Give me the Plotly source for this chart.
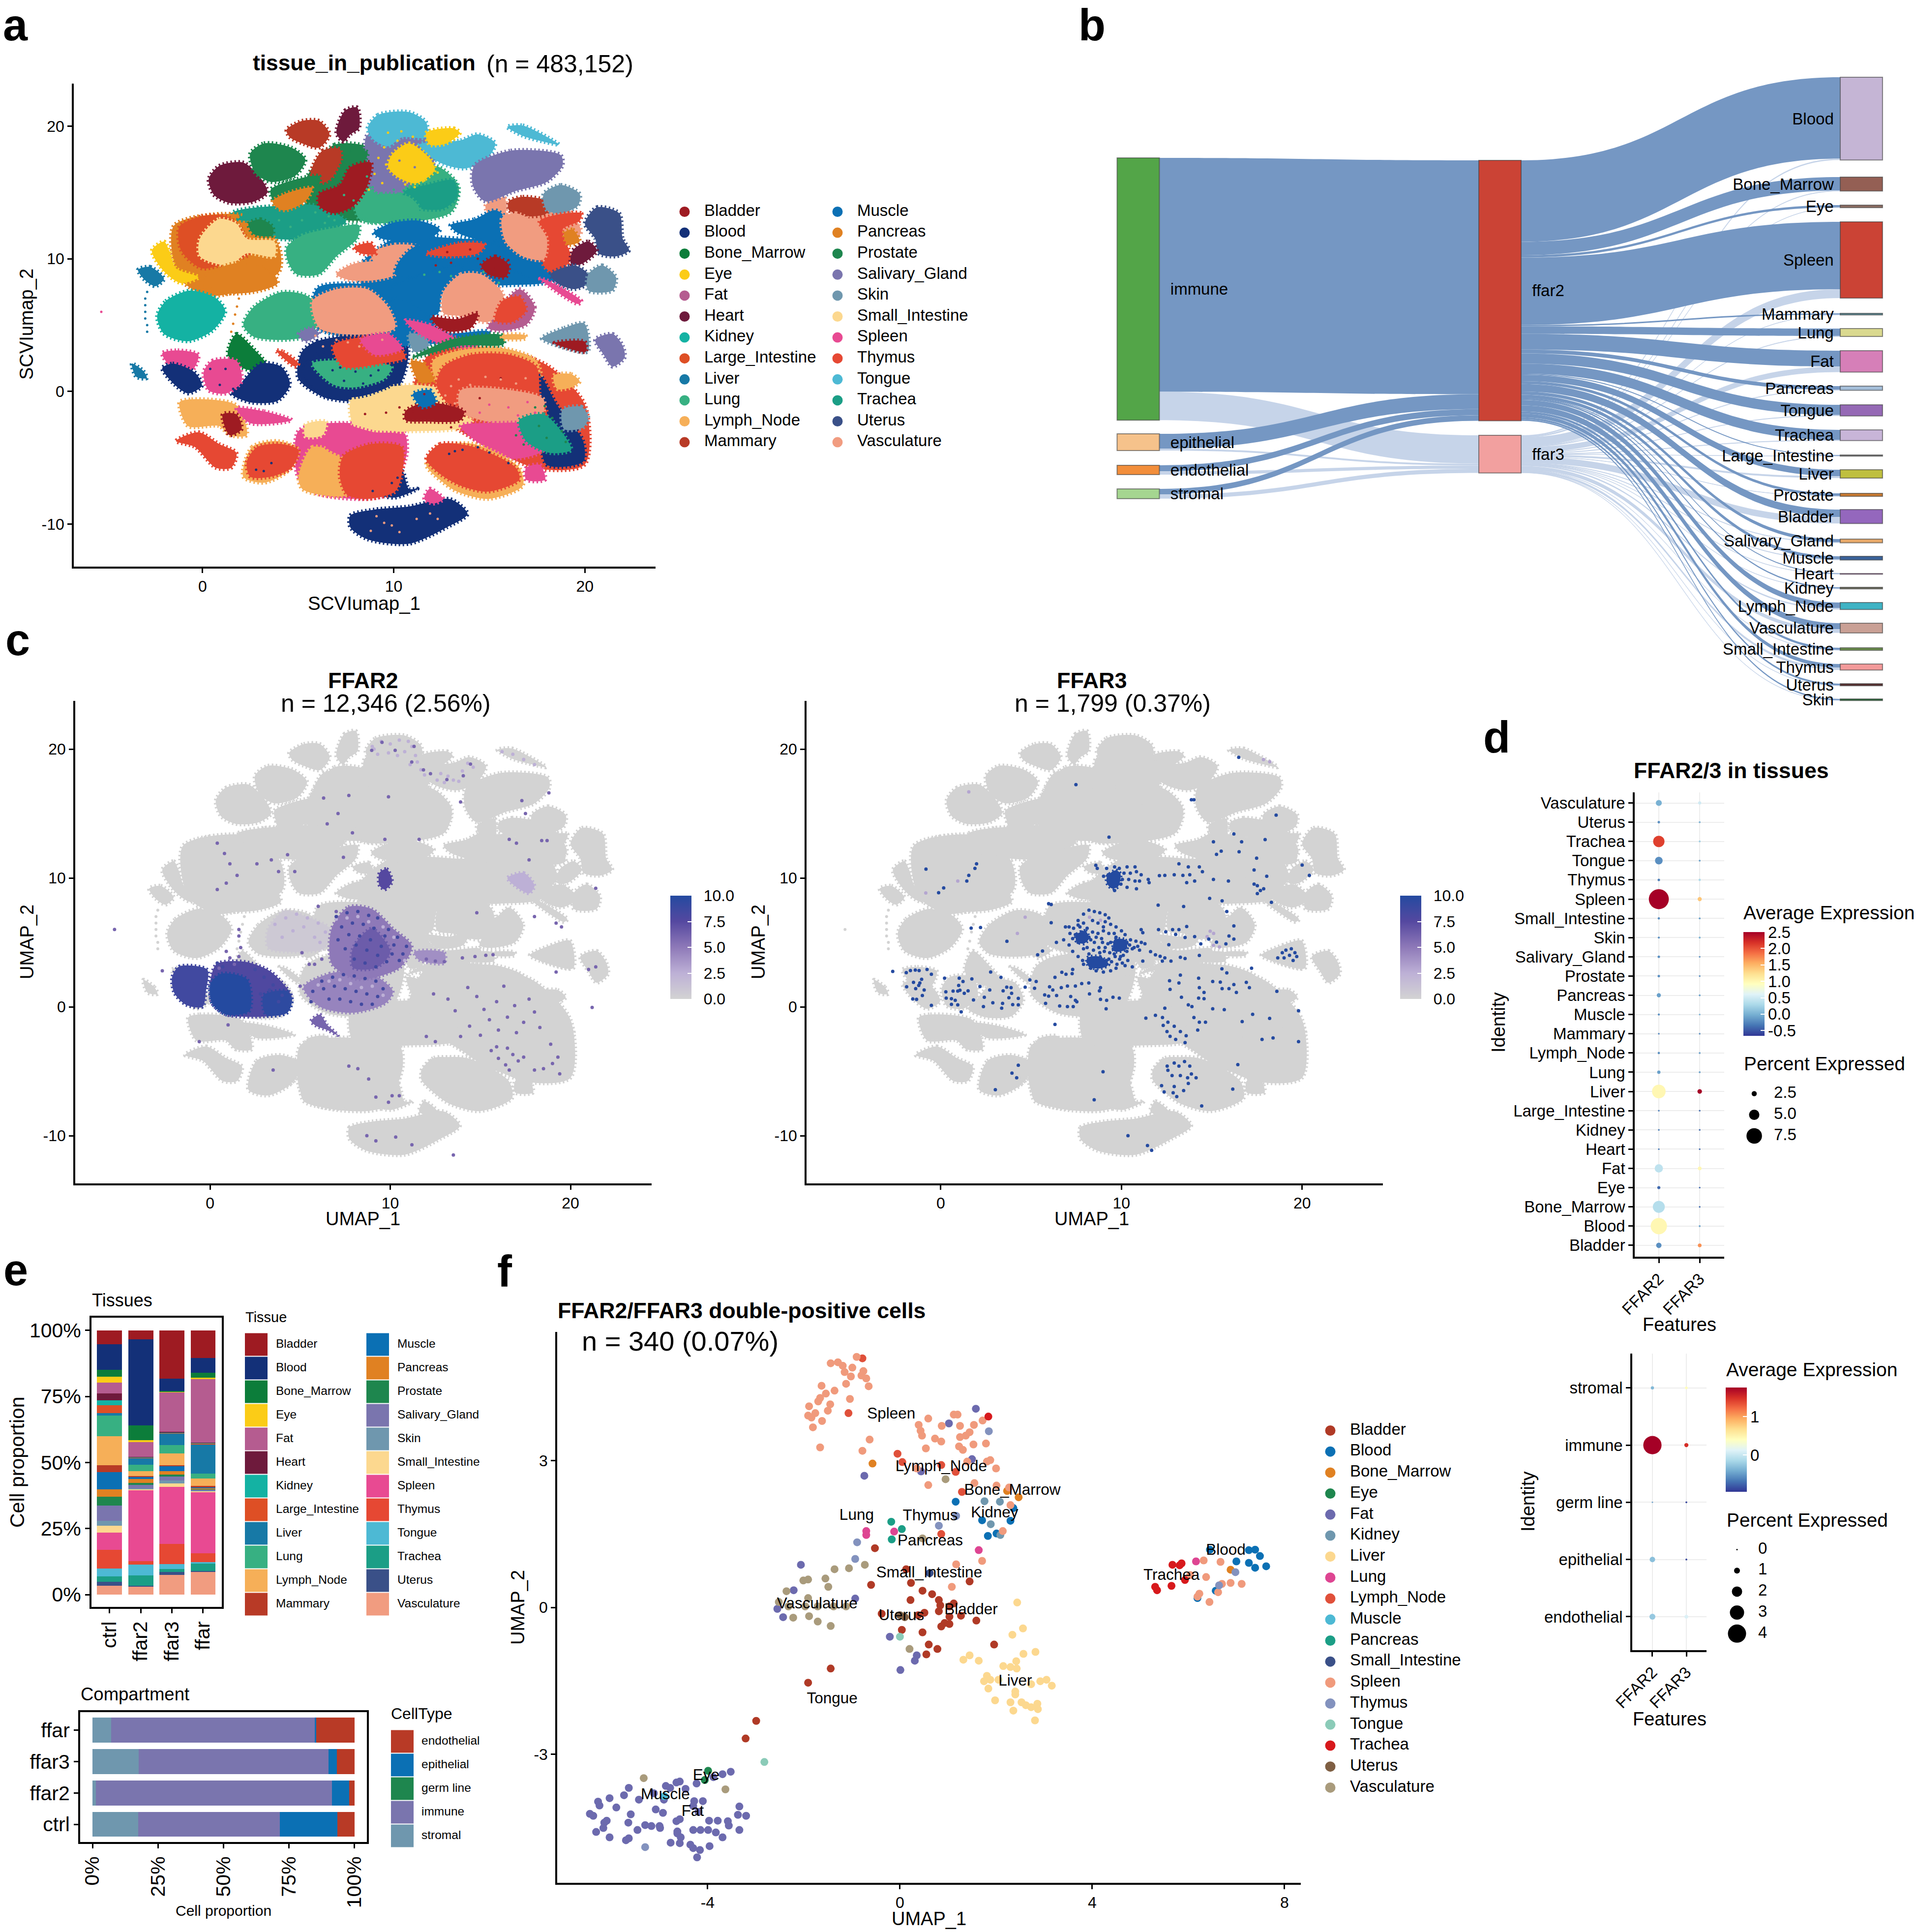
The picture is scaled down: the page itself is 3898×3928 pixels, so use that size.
import plotly.graph_objects as go
from plotly.colors import sample_colorscale

W, H = 3898, 3928
FONT = "Liberation Sans"

TISSUES = ["Bladder","Blood","Bone_Marrow","Eye","Fat","Heart","Kidney","Large_Intestine","Liver","Lung","Lymph_Node","Mammary",
           "Muscle","Pancreas","Prostate","Salivary_Gland","Skin","Small_Intestine","Spleen","Thymus","Tongue","Trachea","Uterus","Vasculature"]
TISSUE_COLORS = ["#9E1B22","#133078","#0C7D3A","#FBCC17","#B55C90","#6E1A3C","#14B2A3","#DE4F25","#1779A6","#37B082","#F6AF58","#B83A26",
                 "#0B70B4","#E08122","#1E864E","#7A75AE","#6F97AE","#FCD88F","#E84A92","#E64833","#4DB9D4","#1B9E86","#3A5088","#F19C80"]
PAL = dict(zip(TISSUES, TISSUE_COLORS))

# Cluster outlines of the embedding, in SCVIumap units, back to front
FILLERS = [
 ("Prostate",[5.4,6.9,8.9,9.6,9.2,7,5.3],[16,18.6,18.3,16.5,13.2,13,14.3]),
 ("Lung",[8,9.8,12.4,13.4,13,10,8.2],[16.5,17.2,16.9,15.4,13.5,12.7,13]),
 ("Salivary_Gland",[8.6,11,12,12,9.5,8.7],[19.3,19.4,18.9,16.8,15,16.8]),
 ("Trachea",[1.5,3.9,6,7.5,5.4,3.9,2],[13.4,14,14,12.8,11.5,11.5,12]),
 ("Vasculature",[14.8,15.8,16,19,19.8,19,17],[14,14.6,13,13.8,12,11,9.8]),
 ("Muscle",[8,10,14,17.5,18.5,16,12,8.5],[9,11.5,11.5,11.5,8.5,8,8.2,8]),
 ("Muscle",[6,9,11,11.5,12.5,15,15,11,8,5.8],[7.8,8.1,8,7,4.5,4.5,3.9,3.6,3.9,5]),
 ("Blood",[5.2,6,9,10.7,10.6,9.8,6.5,5],[3,3.8,4.3,3.5,1.5,-.5,-.5,1]),
 ("Thymus",[12,15,18,20,20,17.5,13.5,11],[3,3.3,2,-1,-5.5,-5.8,-3,-.5]),
 ("Spleen",[5,6.5,10.5,10.7,10.3,10,8.6,6,5],[-3,-2.4,-3,-4.5,-6.5,-7.6,-8.1,-7.7,-6.5]),
 ("Small_Intestine",[7.8,11,14,14,11,8],[-.5,.5,-.5,-2.5,-3,-2.8]),
 ("Pancreas",[-1.5,2,3.9,4,.5,-1.2],[12.5,13.3,11.3,9,7.2,8.5]),
]
BLOBS = FILLERS + [
 ("Heart",[.32,.87,2.13,3.03,3.39,2.67,1.41,.6],[16,17,17.25,16.1,15,14.3,14.2,14.8]),
 ("Prostate",[2.49,3.21,4.66,5.38,4.84,3.57,2.76],[17.92,18.7,18.37,17.47,16.24,15.79,16.46]),
 ("Mammary",[4.39,5.2,6.1,6.64,6.1,5.2,4.57],[19.71,20.39,20.39,19.38,18.37,18.7,19.15]),
 ("Heart",[7,7.45,8.09,8.18,7.73,7.37],[19.49,21.17,21.4,19.83,19.38,18.82]),
 ("Tongue",[8.63,9.17,10.79,11.7,11.7,10.43,9.71,8.99],[19.83,20.84,21.06,20.28,19.15,19.15,18.48,18.93]),
 ("Tongue",[11.34,13.5,14.4,15.31,14.77,13.69,12.6,11.7],[18.6,18.93,19.38,18.7,17.36,16.8,17.13,17.92]),
 ("Eye",[11.7,13.14,13.46,12.78,11.88],[19.49,19.83,19.49,18.7,18.6]),
 ("Tongue",[15.94,16.75,18.65,17.84,16.75],[19.94,20.05,18.6,18.82,19.26]),
 ("Salivary_Gland",[14.22,16.12,18.74,18.83,18.01,16.39,14.77,14.13],[17.02,18.15,17.81,17.02,15.79,15.11,14.33,15.56]),
 ("Salivary_Gland",[8.63,8.99,10.25,10.43,9.35],[15.79,17.13,16.68,15.11,14.89]),
 ("Eye",[9.89,10.79,11.88,12.15,11.16,10.25,9.71],[17.81,18.7,17.58,16.68,15.68,16.12,16.9]),
 ("Trachea",[10.61,11.7,13.14,13.32,12.6,11.34,10.43],[15.11,15.56,15.9,14.67,13.77,13.77,14.22]),
 ("Lung",[8.27,9.35,10.79,11.34,10.43,8.81,8.09],[14.44,14.89,14.67,13.77,13.2,12.76,13.54]),
 ("Mammary",[5.74,6.28,7.18,7.18,6.46,5.65],[16.9,18.15,18.26,16.9,15.79,15.79]),
 ("Prostate",[7.18,7.73,8.63,8.45,7.55,6.82],[16.9,18.15,18.03,17.25,15.79,15.56]),
 ("Bladder",[6.1,7.18,7.73,8.81,8.63,7.91,6.82,6.1],[14.89,15.56,16.9,17.25,15.56,14,13.43,14]),
 ("Prostate",[3.57,6.1,6.1,3.75],[15.23,16.24,15.68,14.33]),
 ("Pancreas",[3.66,4.3,5.74,5.38,4.39,3.93],[14.33,14.89,15.34,14.33,13.66,13.77]),
 ("Trachea",[1.86,3.03,3.93,2.67],[12.98,13.88,13.66,12.87]),
 ("Prostate",[2.4,3.03,3.66,3.66,2.67],[12.65,12.98,12.42,11.75,11.86]),
 ("Lung",[4.39,5.2,6.82,8.18,8.09,7,6.1,4.93,4.48],[10.85,11.75,12.31,12.53,11.52,10.18,8.83,8.83,9.73]),
 ("Muscle",[8.94,9.89,11.34,12.42,11.88,10.43,9.35],[11.97,12.69,12.87,12.2,11.52,11.34,11.52]),
 ("Muscle",[12.96,14.22,15.31,15.85,15.67,14.95,13.32],[12.53,12.98,13.66,13.09,11.52,11.3,11.97]),
 ("Mammary",[16.03,16.75,18.01,18.01,16.93,16.03],[14.33,14.67,14.33,13.43,13.2,13.66]),
 ("Skin",[17.84,18.74,19.73,19.64,18.74,18.01],[14.89,15.56,14.89,14,13.43,13.66]),
 ("Uterus",[20,20.63,21.8,21.98,22.31,21.63,20.72,20.54],[12.65,13.88,13.43,11.52,10.63,10.18,10.4,11.52]),
 ("Thymus",[17.65,19.82,19.73,18.83,19.28,18.37,17.84,17.84],[12.87,13.43,12.87,12.2,9.95,8.94,9.5,11.52]),
 ("Muscle",[15.31,16.21,17.84,17.47,16.03,15.31],[11.3,10.63,8.83,8.49,9.28,10.4]),
 ("Vasculature",[15.67,16.39,17.47,18.01,17.84,16.75,15.85],[13.09,13.43,12.65,11.52,9.95,10.18,11.3]),
 ("Pancreas",[18.92,19.37,19.73,19.1],[11.97,12.2,11.3,11.07]),
 ("Heart",[19.37,20.18,20.63,19.82,19.28],[10.63,11.3,10.63,9.6,9.6]),
 ("Uterus",[18.2,19.46,20.18,20.18,19.46,18.55],[8.83,9.5,8.83,8.16,7.71,8.16]),
 ("Skin",[20.18,20.9,21.63,21.45,20.18],[8.83,9.5,8.61,7.6,7.6]),
 ("Spleen",[17.65,18.01,19.82,19.64],[8.49,8.38,6.81,6.59]),
 ("Vasculature",[7,7.91,9.53,10.07,8.99,7.73],[8.83,9.62,9.73,8.83,8.38,8.38]),
 ("Vasculature",[8.81,10.07,11.34,10.61,9.35],[10.4,11.07,10.85,9.28,9.05]),
 ("Thymus",[7.91,8.81,9.08,8.27],[10.85,11.19,10.4,10.4]),
 ("Muscle",[10.25,11.16,13.5,15.31,15.85,14.04,12.6,10.79,10.07],[9.73,10.96,10.85,11.07,10.4,9.84,9.28,8.61,8.83]),
 ("Thymus",[11.7,13.5,14.77,14.4,12.6],[10.4,11.19,11.07,10.4,10.18]),
 ("Bladder",[14.58,15.31,16.03,15.85,14.95],[9.5,10.18,9.5,8.61,8.83]),
 ("Muscle",[9.8,11.16,12.6,13.68,13.5,12.6,12.33,11.88,10.79,10.07],[7.71,8.61,9.28,9.39,8.61,7.49,5.9,5.68,6.81,7.04]),
 ("Fat",[16.57,17.38,16.93,15.49,14.95],[7.71,6.36,5.02,4.57,4.8]),
 ("Vasculature",[12.6,13.5,14.58,15.67,15.76,14.95,13.5,12.6],[7.49,8.83,8.83,7.49,6.36,5.24,5.68,5.9]),
 ("Thymus",[15.67,16.57,16.93,16.21,15.31],[6.81,7.15,6.14,5.24,5.35]),
 ("Bladder",[11.97,13.32,14.4,14.04,12.6],[5.58,5.46,5.9,4.79,4.57]),
 ("Skin",[17.74,18.92,19.97,20.15,18.55],[4,4.79,5.13,3,3.45]),
 ("Bladder",[18.4,20,20.05,19],[3.65,3.75,3,3.3]),
 ("Salivary_Gland",[20.54,21.45,21.98,22.08,21.45,20.99],[3.9,4.34,3.45,2.55,1.87,2.77]),
 ("Kidney",[-2.38,-1.93,-.67,.69,1.19,.51,-.76,-2.02],[5.69,6.81,7.6,7.04,6.03,4.57,3.78,4.34]),
 ("Liver",[-3.38,-2.74,-2.02,-2.47,-3.01],[9.17,9.39,8.49,7.93,8.38]),
 ("Liver",[-3.7,-3.1,-2.92,-3.47],[2.1,1.54,1,1.1]),
 ("Large_Intestine",[-1.21,-.04,1.23,1.95,2.49,1.77,-.04,-1.12],[12.42,13.2,13.2,12.42,10.4,9.95,9.28,10.63]),
 ("Small_Intestine",[-.14,.87,1.77,2.31,3.75,3.75,2.31,1.41,-.14],[11.52,13,12.65,11.52,11.3,10.18,10.4,9.5,10.18]),
 ("Eye",[-2.65,-2.02,-1.75,-1.39,-.22,-1.12,-2.02],[10.63,11.3,10.63,9.28,8.61,8.16,9.05]),
 ("Pancreas",[-.05,1.23,2.31,3.57,3.93,2.67,.69],[8.38,9.5,9.73,9.05,8.16,7.49,7.49]),
 ("Lung",[2.13,2.67,4.12,5.38,6.1,5.74,4.48,2.67],[5.02,6.36,7.49,7.26,6.36,4.34,3.9,4.12]),
 ("Muscle",[8.63,9.89,10.43,11.16,10.25,8.99],[7.71,6.81,5.24,3.67,3.45,5.02]),
 ("Vasculature",[5.74,7,8.63,9.71,10.07,8.99,7.18,6.1],[6.81,7.71,7.71,6.36,4.79,4.34,4.34,4.79]),
 ("Skin",[10.79,11.7,11.79,11.06],[4.34,4.12,3.22,3]),
 ("Spleen",[10.61,11.88,13.14,14.4,12.96,11.34],[5.35,5.02,4.12,3.45,3.34,4.34]),
 ("Prostate",[10.97,12.96,15.67,15.76,13.5,11.7],[2.55,3.9,4.23,3.56,3.45,2.77]),
 ("Lymph_Node",[15.67,16.9,16.9,15.67],[4.23,4.23,4,4]),
 ("Salivary_Gland",[5.02,5.74,6.1,5.38],[4.34,4.79,4.34,3.78]),
 ("Blood",[5.2,6.28,8.99,10.25,9.89,8.27,6.46,5.56],[1.87,2.99,2.77,1.87,.53,-.37,-.37,.53]),
 ("Lung",[5.74,8.09,9.89,9.53,7.91,6.82],[2.1,2.32,1.87,.98,.3,.53]),
 ("Thymus",[6.82,8.63,10.07,10.61,9.35,7.36],[3.45,4.12,3.67,2.55,2.1,1.87]),
 ("Spleen",[8.27,9.71,10.43,8.99],[3.9,4.34,3.22,2.77]),
 ("Spleen",[-2.11,-1.3,-.22,-.58,-1.66],[2.88,3.1,2.77,1.54,1.87]),
 ("Blood",[-2.11,-1.57,-.4,-.04,-.76,-1.48],[1.76,2.1,1.43,.42,-.15,.53]),
 ("Bone_Marrow",[1.32,1.77,2.67,3.39,2.31],[2.77,4.34,3.22,1.87,1.65]),
 ("Blood",[1.95,3.03,4.12,4.57,3.93,2.49,1.5],[.53,2.1,1.87,.53,-.71,-.82,-.15]),
 ("Spleen",[.05,.51,1.77,2.04,1.23,.32],[1.43,2.32,2.32,.75,-.15,.08]),
 ("Thymus",[3.84,4.21,5.02,4.84],[3.1,3,2.1,1.87]),
 ("Lymph_Node",[12.06,13.5,15.85,17.47,17.65,15.85,12.96,12.15],[2.32,3.11,3.22,2.32,.53,-.37,-.15,.98]),
 ("Pancreas",[10.9,11.6,12.1,11.35],[2.3,2.1,.8,.7]),
 ("Blood",[17.65,18.55,19.91,19.91,18.01,17.65],[1.2,-1.04,-3.74,-5.3,-5.53,-2.61]),
 ("Thymus",[12.6,14.04,16.03,17.47,17.65,18.01,17.11,14.4,12.78,12.24],[1.87,2.77,2.77,1.87,-.37,-1.72,-2.61,-2.16,-.82,.53]),
 ("Vasculature",[13.5,16.21,17.84,17.65,15.31,13.5],[.08,.08,-.59,-2.16,-2.38,-1.49]),
 ("Spleen",[13.5,15.31,17.65,17.84,16.21,14.77],[-2.61,-2.38,-2.61,-4.41,-5.08,-4.19]),
 ("Trachea",[16.57,17.84,18.92,19.28,18.2,16.93],[-2.16,-1.72,-3.29,-4.41,-4.64,-3.74]),
 ("Skin",[18.83,19.82,20.18,19.91,18.92],[-1.38,-1.15,-1.94,-2.72,-2.84]),
 ("Lymph_Node",[18.37,19.28,19.73,19.28,18.55],[1.2,1.31,.75,.3,.19]),
 ("Small_Intestine",[7.9,8.99,10.61,10.97,11.16,9.71,8.45],[-1.27,-.37,.19,-1.27,-2.61,-2.84,-2.39]),
 ("Bladder",[10.61,11.7,13.68,13.5,11.7,10.61],[-1.49,-.82,-1.49,-2.16,-2.27,-2.16]),
 ("Muscle",[11,11.9,12.2,11.5],[-.2,.1,-.8,-1.2]),
 ("Lymph_Node",[-1.21,-.58,1.77,2.31,1.41,.87,-.76],[-.82,-.59,-1.04,-3.29,-3.29,-2.61,-2.61]),
 ("Spleen",[1.77,3.21,4.66,2.49],[-1.27,-1.49,-2.16,-2.39]),
 ("Bladder",[1.05,1.77,2.04,1.41],[-1.72,-1.72,-2.84,-3.29]),
 ("Thymus",[-1.39,-.22,.87,1.77,1.5,.69,-.4],[-3.74,-3.07,-3.96,-4.63,-5.75,-5.75,-4.19]),
 ("Lymph_Node",[2.13,2.58,3.93,5.02,4.48,3.21],[-6.43,-4.19,-3.74,-4.41,-5.98,-6.88]),
 ("Thymus",[2.31,2.85,4.12,5.02,4.66,3.57,2.49],[-5.3,-4.19,-3.96,-4.41,-5.75,-6.43,-6.43]),
 ("Small_Intestine",[5.38,6.46,6.28,5.38],[-2.5,-2.28,-3.29,-3.4]),
 ("Lymph_Node",[5.02,5.74,7.18,7.55,6.1,5.2],[-6.43,-4.19,-4.86,-7.77,-7.77,-7.33]),
 ("Spleen",[6.46,7.18,8.99,10.43,10.43,8.99,7.36,6.46],[-3.29,-2.5,-3.07,-3.29,-4.41,-5.08,-4.86,-4.19]),
 ("Blood",[9.35,10.43,10.79,11.25,10.07],[-7.77,-5.98,-7.33,-7.33,-8]),
 ("Thymus",[7.36,8.81,10.43,10.43,10.07,8.63,7.55,7.18],[-4.86,-3.96,-4.19,-6.21,-7.55,-8.1,-7.77,-6.43]),
 ("Lymph_Node",[11.7,12.24,14.22,16.57,16.75,14.95,13.32,12.6],[-5.53,-4.19,-3.96,-5.75,-7.1,-8.1,-7.55,-6.88]),
 ("Thymus",[11.7,12.42,14.22,16.39,16.57,14.95,13.5,12.42],[-5.08,-3.96,-4.19,-5.75,-6.65,-7.55,-7.1,-6.21]),
 ("Spleen",[16.93,17.65,17.92,16.93],[-5.75,-5.53,-6.65,-6.65]),
 ("Blood",[7.73,7.73,8.99,10.79,12.96,13.86,12.78,10.79,8.63],[-10.24,-9.35,-8.9,-8.67,-8.11,-9.23,-10.24,-11.48,-11.14]),
 ("Spleen",[11.6,11.88,12.6,12.06],[-8.11,-7.33,-8.11,-8.45]),
]
SPECKLE_A = {
 "Eye":[(9.7,19.5),(10.4,19.6),(11,19.2),(10.2,18.9),(9.5,18.4),(10.8,18.3),(9.2,17.6),(9.6,17.1),(10,16.6),(9,16.4),(9.4,15.7),(8.7,15.2),(12.3,16.5),(11.6,15.9),(11.1,15.4),(10.6,15.6)],
 "Lung":[(7.4,14.8),(7.9,14.4),(8.6,16.2),(8.9,15.4),(10,15.2),(6.6,13.2),(6.9,12.9),(5.9,13.5),(5.2,12.9),(4.6,12.4),(4,12.9),(6.4,12.7),(6.1,1.5),(6.8,1),(11.6,8.8),(13,8.7),(12.4,9),(14.7,9),(15.5,8.2)],
 "Salivary_Gland":[(9.1,17.4),(9.8,15.6),(11.1,16.9),(10.3,17.4)],
 "Bladder":[(15.6,1),(14.5,-.5),(12.6,-1),(11.6,-.2),(9.6,-1.6),(10.3,-1.2),(8.5,-1.7),(11,-1.5),(13,-2.7),(14.4,10),(15.2,9.3),(15.8,8.7),(16,9.9),(13,9.7),(12.2,9.5),(12.8,10.5),(14,10.7)],
 "Blood":[(.4,1.7),(.9,.5),(1.6,.2),(1.2,1.7),(-1,1.2),(-1.2,.6),(-.8,.4),(3.2,-6),(3.6,-5.4),(2.8,-5.9),(13.6,-4.4),(14.4,-4.2),(13.2,-4.5),(12.9,-4.7),(15,-4.6),(16,-5.4),(8.9,-7.5),(9.9,-6.9),(10.2,-6.5),(6.8,1.6),(7.4,.8),(8,1.5),(8.8,1.2),(9.2,1.6),(7.2,1.8),(8.4,.6)],
 "Vasculature":[(8.8,-10.5),(9.5,-9.9),(10.3,-10.6),(11.2,-9.6),(11.9,-9.2),(9.1,-9.4),(9.9,-10.1),(12.3,-9.6),(6.5,4.9),(7,3.9),(7.6,3.7),(8.2,3.4),(9.4,3.9),(5.9,4.2),(6.3,3.4),(14,.5),(14.8,1.1),(15.6,.9),(16.4,.6),(16.9,1),(13.4,.9),(13,.4),(13.2,-.9),(12.7,-.3)],
 "Spleen":[(15,-1),(16,-1.2),(16.5,-1.8),(14.5,-1.6),(17,-.8),(17.4,-1.6),(-5.3,6)],
 "Prostate":[(17.4,-1.2),(17.9,-1.1),(18.3,-2),(18.8,-3),(19,-3.8),(17.6,-2.6),(18,-3.5),(16.8,-4),(16.4,-3.3)],
 "Pancreas":[(2,7.5),(1.9,7),(1.8,6.4),(1.7,5.8),(1.6,5.1),(1.5,4.5)],
 "Liver":[(-2.9,7.5),(-3,7),(-3,6.5),(-3,6),(-3,5.5),(-2.9,5),(-2.9,4.5)],
}

# Expression patches and dots (UMAP units)
FFAR2_PATCHES = [
 (.7,[3.23,4.15,5.32,6.62,6.36,4.54,3.23],[6.08,7.45,7,6.08,4.56,4.26,4.56]),
 (4.5,[5.19,6.62,8.71,10.14,9.75,7.93,6.1],[1.52,2.58,2.74,1.22,.3,-.46,0]),
 (5.0,[6.75,7.67,8.97,10.14,11.19,10.53,8.19,6.75],[6.08,7.75,7.6,6.08,4.71,3.04,2.13,3.34]),
 (6.5,[7.93,8.97,10,9.23,7.93],[4.56,6.08,4.26,3.04,3.04]),
 (4.0,[11.32,13,13,11.58],[4.26,4.2,3.4,3.65]),
 (7.5,[9.4,9.8,10.1,9.7,9.4],[10.4,10.7,9.73,9.1,9.42]),
 (2.5,[16.5,17.4,18,17.7,16.9],[10,10.4,9.4,8.8,9.4]),
 (6.0,[5.6,6.1,6.5,7.1,6.5,5.9],[-1.1,-.6,-1.4,-2.2,-1.8,-1.5]),
 (8.5,[-2.11,-1.72,-.16,-.23,-.42,-1.33,-1.98],[2.28,3.13,2.89,1.22,0,.15,1.06]),
 (7.8,[.03,.37,1.93,3.36,4.54,4.28,2.97,.89,.1],[2.13,3.34,3.5,2.74,.76,-.46,-.76,-.6,.3]),
 (10.0,[.03,.63,2.06,2.19,.89,.1],[1.82,2.58,2.13,-.3,-.6,.3]),
 (9.5,[2.97,4.28,4.54,4.28,3.1],[.91,1.22,.46,-.46,-.6]),
]
FFAR2_X = [8.97,9.54,10.27,11.32,11.19,11.84,12.23,14.05,14.45,13.14,12.4,13.2,13.6,14.3,14.8,15.2,15.5,15.9,16.3,16.5,16.9,17.4,17.7,18,16,15,14.4,13.9,17,18.3,
 15.6,16,16.5,16.8,17.1,16.4,15.9,16.6,17.4,18,18.5,19,19.3,19.4,3.5,1,-.6,8.8,9.2,10.1,10.5,9.9,8.2,7.7,12,12.5,8.7,9.2,10.3,11.2,13.5,
 4.3,3.8,.4,.8,1.1,1.5,.9,.4,2.6,3.4,4.7,9.7,11.6,7.4,7.1,6.5,6.3,7.7,9.9,7.9,18.4,18.7,17.7,17,16.6,17.5,17.3,18.8,13.9,21.4,19.2,19.5,18,14.8,21.4,21,19.2,18.9,21.2,
 1.6,1.6,1.7,1.6,.9,1.1,.5,-2.65,-5.3,1.35,12,12.5,13,14,14.7,15.3,15.7,5,5.8,5.5,5.1,6.2,7,6]
FFAR2_Y = [19.9,20.52,19.9,20.21,19,18.39,18.09,17.93,18.84,17.63,1,.6,-.3,1.5,.8,-.2,-1,.4,1.6,-.8,.1,-1.2,.6,-.4,-1.8,-2.2,-1.5,-2.3,-2,-1.6,
 -3.4,-4,-3.2,-3.7,-4.2,-4.5,-3.1,-4.9,-3.9,-4.9,-4.8,-4.4,-3.9,-5.2,-4.9,-1.4,-2.7,-5.6,-7,-6.9,-6.9,-7.4,-4.8,-4.6,-2.3,-2.7,-10,-10.4,-10.1,-10.7,-11.5,
 11.8,10.5,12.7,11.9,11.1,10.2,9.6,9.1,11.1,11.4,10.5,13,13,11.6,15,14.2,16.2,16.4,16.3,13.5,12.9,12.9,11.4,12.7,13,15,16,16.6,15.9,9.2,6.5,6.2,7,7.3,3.1,2.9,2.7,-2.9,-.05,
 6,5.5,4.6,3.9,4.3,3.8,3,2.8,6,3.3,3.7,3.55,3.5,3.8,3.9,4,4.05,1.6,3.3,3.3,4.2,3.7,7.4,7.8]
FFAR2_DARK_X = [7,7.6,8.2,8.8,9.3,9.9,10.4,10.9,7.3,7.9,8.5,9.1,9.7,10.2,10.7,7.1,7.7,8.3,8.9,9.5,10.1,10.5,7.5,8.1,8.7,9.3,9.8,8,8.6,9.2,6.2,6.8,7.4,8,8.6,9.2,9.6,5.7,6.3,6.9,7.5,8.1,8.7,9.3,6.6,7.2,7.8,8.4,9,5.6,2.5,3,3.5,4,2.8,3.3,3.8,.4,.7,-1.5,-1,-.6,-1.2,-1.7]
FFAR2_DARK_Y = [7,7.3,7.4,7.1,6.9,6,5.4,4.7,6.2,6.5,6.4,6.1,5.5,4.8,4.1,5.2,5.6,5.5,5.2,4.7,4.1,3.6,4.5,4.8,4.4,4,3.5,3.7,3.4,3.1,2,2.3,2.5,2.4,2.2,2,1.4,1.2,1.4,1.6,1.4,1.2,1,.8,.6,.6,.4,.2,.2,.4,2.9,2.3,1.7,.9,1,1.3,.4,3.4,3.1,2.6,1.8,.9,.5,1.4]
FFAR2_LIGHT_X = [9,9.5,10,10.5,11,11.2,10.8,11.4,11.5,11.1,11.7,11.9,10.4,9.9,9.3,9.1,12.6,13,13.2,13.5,14,14.3,14.6,13.8,12.8,16.2,16.8,17.4,18,3.6,4.2,4.8,5.4,6,6.4,4,4.6,5.2,5.8,6.1,7,7.6,8.2,8.8,9.6,10.2,10.8,6,6.6,7.2,7.8,8.4,9,9.6]
FFAR2_LIGHT_Y = [20.2,20.6,20.4,20.7,20.6,20.2,19.8,19.5,19,18.8,18.4,18,19.5,19.7,19.6,20,17.6,17.4,17.9,17.6,18.3,18.9,18.6,17.5,18.1,19.8,19.6,19.2,18.8,6.4,6.9,7.2,6.9,6.5,5.8,5.4,5.9,6.2,5.4,5,6.8,6.9,7,6.6,6.2,5.4,3.6,1.7,2,2.1,1.8,1.5,1.6,.9]

FFAR3_CORE_X = [[9.2,9.7,9.95,9.8,9.45,9.2],[7.5,8,8.2,7.9,7.5],[8.1,8.8,9.3,8.9,8.2],[9.6,10.2,10.3,9.6]]
FFAR3_CORE_Y = [[10.1,10.6,10.3,9.3,9.2,9.6],[5.6,5.9,5.3,4.9,5.1],[3.8,3.9,3.3,3,3.1],[5.2,5.2,4.5,4.3]]
FFAR3_X = [-2.66,-1.91,-1.68,-1.41,-1.2,-.76,-.52,-1.06,-1.51,-1.16,-1.22,-1.89,-1.39,-.92,-1.02,-1.55,-1.34,-.52,.21,1.02,1.72,2.76,3.33,1.23,.99,2.17,2.71,3.65,3.89,.28,.68,.94,1.06,1.3,1.51,3.45,3.92,1.81,2.41,3.77,4.29,.3,.59,.8,.59,.94,2.88,3.42,2.36,3.37,4.29,3.98,1.13,
 4.67,5.19,5.28,4.93,6.32,6.7,6.93,7.27,6.02,6.2,6.67,5.75,5.97,7.01,7.45,7.8,7.19,7.45,6.41,5.8,6.58,7.01,7.33,7.53,8.23,8.84,8.78,9.18,8.84,9.53,9.88,9.15,8.19,
 8.58,8.66,9.18,9.62,9.88,10.31,10.75,10.83,10.49,10.14,11.09,9.01,9.27,9.53,9.79,10.05,10.4,10.75,11,9.27,9.53,9.71,9.97,9.53,9.36,9.62,10.31,10.83,11.48,11.53,
 12.1,12.4,12.92,13.18,13.4,13.7,13.78,14.05,13.61,14.31,14.48,15.09,15.92,14.88,15.57,12.03,13.44,15.83,16.22,
 11.09,11.18,12.05,12.45,12.83,13.18,13.61,13,13.52,14.05,14.39,14.83,15.26,15.78,15.95,16.22,12.62,11.61,11.88,12.14,12.4,12.74,13.26,13.52,14.31,11.18,12.26,
 15.56,15.83,12.66,13.26,13.18,12.69,14.27,14.31,14.57,15.05,15.47,15.57,15.95,16.22,16.36,16.91,17.08,13.32,13.7,14.27,14.57,13.9,12.4,11.88,12.27,11.35,12.57,12.31,12.92,12.52,12.69,13,13.26,13.58,13.52,14.01,14.31,14.65,14.22,15.05,15.69,16.68,17.26,17.78,18.39,
 12.92,13.49,12.53,13.18,13.78,12.57,13.26,12.8,13.87,14.13,13.66,12.22,12.92,13.7,12.36,13.44,12.86,13.06,14.44,16.16,16.44,3.02,3.94,4.2,4.29,8.98,8.49,10.36,11.44,11.67,6.32,7.48,9.31,13.87,14.01,-.82,1.89,1.98,1.55,1.44,.16,-.12,1.68,2.2,3.66,6.11,5.97,6.11,5.36,5.63,
 16.49,18.56,16.22,15.09,15.52,15.26,16.65,16.51,17.95,17.48,17.34,17.52,17.69,17.87,17.52,17.34,18.04,18.3,18.65,18.9,19.1,19.3,19.4,19.6,19.7,19,19.5,18.6,18.2,19.8,20,20.4,19.8,17.2,
 6.9,7.1,7.35,7.6,7.9,7.6,7.9,8.2,8.5,8.8,9.1,9.3,9.1,9.4,9.7,9,8.7,8.4,8.1,10,10.2,10.5,10.8,11.1,11.3,10.9,10.6,10.3,10.1,9.9,10.2,10.6,9.7,9.4,9,8.6,8.3,7.9,7.6,7.3,7.1,7.3,6.8,6.4,7.6,7.9,8.2,8.5,8.8,9.1,9.4,9.7,8.9,8.5,8.2,7.8,9.3,9.6,9.9,10.3,8.7,9.1,7.3,
 7.7,8.4,8.7,9,9.3,9.6,8.3,8.6,8.95,9.25,9.55,9.85,10.15,10.45,10.7,11,8.1,8.45,8.75,9.05,9.35,9.65,9.95,8.25,8.55,8.85,9.15,9.45,9.75,10.05,10.35,7.85,8.15,7.45,7.15,7.55]
FFAR3_Y = [2.75,2.65,2.82,2.85,2.82,2.9,2.53,2.14,1.9,1.85,1.66,1.56,1.41,1.31,.88,.61,.58,.12,2.22,2.22,2.17,2.7,2.29,1.97,1.66,1.58,1.31,1.53,1.49,1.17,1.22,1.22,1.29,1.05,1.24,1.24,1.05,.54,.75,.71,.66,.68,.63,.51,.19,.15,.32,.27,.02,-.1,.15,.17,-.39,
 1.53,1.44,1.97,2.09,2.29,2.68,2.53,2.58,1.56,1.31,1.49,.93,.83,1.61,1.61,1.8,.8,.51,.88,.27,.07,.02,.02,.39,1,1.49,1.24,.51,.58,.75,.68,-.15,1.85,
 10.98,10.74,10.74,10.86,10.74,10.86,10.86,10.49,10.37,10.37,10.25,10.13,10.25,10.37,10.13,9.89,9.89,9.76,9.76,9.76,9.89,9.64,9.52,9.4,9.52,9.03,9.28,9.16,9.89,9.64,
 10.18,10.2,10.25,11.1,10.2,10.86,10.25,9.76,9.64,10.86,10.49,9.89,9.76,8.42,8.23,7.89,7.79,7.4,6.28,
 5.99,5.75,5.99,5.82,5.99,5.99,6.23,5.62,5.38,5.45,4.89,5.26,5.02,4.89,5.5,5.26,4.82,4.29,4.04,3.92,3.8,3.55,3.85,3.75,3.99,3.55,3.55,
 2.95,2.63,2.02,2.46,1.85,1.36,2.22,1.49,1.12,1.97,1.92,1.41,1.41,1.73,1.12,1.9,1.49,.75,.15,.68,.63,.02,-.1,-.66,-.83,-.88,-1.19,-1.44,-1.51,-1.92,-2.29,-2.53,-1.92,-2.24,-2.78,-.83,-1.19,-1.19,-1.8,-.15,-.22,-1.14,-.58,-2.53,-2.41,
 -4.36,-4.24,-4.6,-4.6,-4.6,-4.92,-5.33,-5.33,-5.21,-5.5,-5.5,-6.11,-6.18,-5.94,-6.6,-6.5,-6.67,-6.96,-7.69,-6.38,-4.48,-6.43,-5.14,-5.5,-4.53,-5.04,-7.21,-10,-10.76,-11.13,-1.36,17.24,13.17,16.07,16.07,10.69,10.74,11.1,10.2,9.76,9.23,8.86,6.11,6.16,5.09,7.94,8.01,6.53,4.04,4.33,
 19.36,14.88,13.42,12.81,12.08,11.83,12.81,12.03,12.98,11.54,9.52,9.4,9.03,9.16,8.79,10.62,10.13,8.11,3.8,4.2,4.4,4,4.5,4.2,3.9,3.8,3.6,1.2,-.9,-.3,11,10.2,-2.7,3,
 6.2,6.2,6.1,6.35,6.5,6.7,7.2,7.5,7.4,7.3,7.15,6.9,6.6,6.4,6.2,6.2,6.5,6.7,6.1,5.9,5.6,5.2,5.1,5,4.9,4.7,4.5,4.3,4,3.7,3.2,3.1,3,2.8,2.7,2.8,3,3.3,3.9,4.3,4.8,5.3,5.2,5,5,4.5,4.1,3.8,4.2,4.6,5,5.4,5.3,5,5.4,5.8,3.7,4.1,4.7,5,3.3,3.2,2.9,
 6.2,5.8,5.7,5.9,5.7,5.7,5.2,5.4,5,4.9,4.5,4.4,4.7,4.8,4.6,4.4,4.6,4.4,4.6,4.3,4.2,3.9,3.9,3.6,3.6,3.8,3.6,3.5,3.3,3.4,3.6,3.6,3.5,5.6,5.7,5.6]
FFAR3_LIGHT_X = [14.91,14.74,15.1,15.42,15.09,17.86,18.21,1.55,-.83,.94,4.24,4.67,8.84,8.23]
FFAR3_LIGHT_Y = [5.87,5.45,5.7,4.65,4.77,19.19,19.02,16.68,8.84,9.76,5.7,6.96,6.72,6.96]

# Dot plots
DOT_FEATURES = ["FFAR2","FFAR3"]
DOT_TISSUES = list(TISSUES)
FFAR2_PCT = [2.6,7.9,5.8,1.5,4.0,.8,.8,.8,6.6,1.6,1.1,.8,1.0,2.0,1.2,1.2,1.0,1.1,9.7,1.2,3.7,5.5,1.2,2.9]
FFAR2_AVG = [-.2,1.0,.35,-.4,.4,-.3,-.3,-.3,1.0,-.1,-.2,-.25,-.2,-.1,-.2,-.2,-.2,-.2,2.5,-.3,-.2,2.1,-.2,0.0]
FFAR3_PCT = [1.8,.9,.8,.8,1.8,.8,.8,.8,2.2,.9,.9,.8,.8,.9,.8,.8,.9,.9,2.0,1.1,.9,.9,.9,1.5]
FFAR3_AVG = [1.7,-.1,-.4,-.4,1.0,-.4,-.4,-.4,2.5,-.1,-.1,-.2,0,-.1,-.2,-.2,0,-.1,1.4,.3,-.1,.2,0,.5]
COMP_ID = ["endothelial","epithelial","germ line","immune","stromal"]
COMP_FFAR2_PCT = [1.3,1.2,.3,4.0,.7]
COMP_FFAR2_AVG = [-.25,-.3,-.5,1.76,-.35]
COMP_FFAR3_PCT = [.8,.4,.4,.9,.6]
COMP_FFAR3_AVG = [.1,-.9,-.9,1.5,.42]

# Stacked bars
BAR_GROUPS = ["ctrl","ffar2","ffar3","ffar"]
BAR_CTRL  = [5.2,9.8,2.5,2.3,4.1,2.5,2.0,2.9,1.0,7.7,11,2.6,6.5,2.8,3.4,5.7,2.0,2.6,6.5,7.0,3.1,2.0,1.5,3.3]
BAR_FFAR2 = [3.4,32.9,5.6,.8,5.6,.2,.1,.2,2.6,2.5,1.8,.4,.8,1.5,.7,1.3,.3,.5,27,1.3,4.1,4.1,.2,3.1]
BAR_FFAR3 = [18.3,4.6,.3,.3,14.9,.3,.2,.2,4.4,3.1,4.6,.3,1.8,1.3,.8,1.6,1.1,1.3,21.6,7.7,1.8,1.1,1.1,7.5]
BAR_FFAR  = [10.5,5.7,1.8,.5,24.2,.1,.4,.1,11.3,1.8,2.9,.5,.3,.3,.2,.3,.3,.3,23.4,3.4,.5,2.9,.2,8.7]
COMP_GROUPS = ["ctrl","ffar2","ffar3","ffar"]
COMP_TYPES = ["stromal","immune","germ line","epithelial","endothelial"]
COMP_COLORS = ["#6F97AE","#7A75AE","#1E864E","#0B70B4","#B83A26"]
COMP_VALUES = [[17.5,1.3,17.6,7.1],[53.9,90.1,72.5,77.8],[0,0,0,0],[22,6.6,3.1,.4],[6.6,2.0,6.8,14.7]]

# Double-positive cells
F_NAMES = ["Bladder","Blood","Bone_Marrow","Eye","Fat","Kidney","Liver","Lung","Lymph_Node","Muscle","Pancreas","Small_Intestine","Spleen","Thymus","Tongue","Trachea","Uterus","Vasculature"]
F_COLORS = ["#B03A26","#0B70B4","#E08122","#1E864E","#6C6AAE","#6F97AE","#FCD88F","#DE4592","#E0503A","#4DB9D4","#1B9E86","#3A5088","#F09A7C","#8392BE","#8BCBB8","#D7191C","#7F5F43","#A99B7C"]
F_POINTS = {
 "Spleen":[(-.9,5.12),(-1.44,4.99),(-1.29,5.01),(-1.19,4.94),(-.99,4.9),(-.76,4.83),(-1.15,4.81),(-1.02,4.72),(-.8,4.74),(-.7,4.68),(-.65,4.52),(-1.12,4.57),(-1.63,4.53),(-1.36,4.43),(-1.54,4.37),(-1.66,4.28),(-1.7,4.21),(-1.04,4.26),(-1.45,4.15),(-1.89,4.11),(-1.5,4.02),(-1.91,3.92),(-1.76,3.97),(-1.84,3.88),(-1.62,3.81),(-1.81,3.68),(-1.66,3.27),(-.78,3.2),(-.63,3.43),
  (1.12,3.94),(1.2,3.94),(.59,3.86),(.39,3.73),(.43,3.61),(.46,3.51),(.87,3.71),(1.25,3.71),(1.54,3.73),(1.72,3.82),(1.45,3.58),(1.37,3.51),(.73,3.45),(.86,3.39),(1.25,3.48),(1.23,3.29),(1.53,3.33),(1.79,3.35),(.54,3.25),(1.31,3.22),(1.81,2.98),(1.88,3.01),(1.4,2.98),(2,2.84),(.35,2.84),(1.55,2.54),(2.01,2.49),(.59,2.5),(2.27,2.45),(2.3,2.09),(2.14,1.56),(1.71,.95),(1.17,.88),(1.08,.42),
  (6.32,.96),(6.67,.93),(6.04,.66),(6.37,.62),(6.7,.48),(6.88,.5),(7.11,.48),(6.23,.28),(6.19,.22),(6.62,.31),(6.44,.11)],
 "Lymph_Node":[(-.78,5.09),(-1.07,3.97),(-.05,3.14),(.05,2.97),(.86,2.91),(1.16,2.77),(1.29,2.36),(.86,1.5)],
 "Trachea":[(1.84,3.9),(5.67,.87),(5.82,.86),(5.86,.9),(5.31,.42),(5.35,.35),(5.65,.44),(5.93,.56)],
 "Bone_Marrow":[(-.57,2.94),(2.23,2.38),(2.47,2.25),(6.88,.77)],
 "Blood":[(1.16,2.16),(2.36,2.03),(1.71,1.78),(2.3,1.77),(1.83,1.46),(2.01,1.51),(6.45,1.18),(7,.94),(7.26,1.17),(7.39,1.18),(7.49,1.05),(7.26,.91),(7.39,.81),(7.62,.84),(6.57,.34),(6.19,.19)],
 "Kidney":[(1.76,2.17),(2.08,2.16),(1.89,1.7),(2.09,1.48)],
 "Thymus":[(1.85,3.6),(1.17,1.87),(.81,1.67),(-.89,1.33),(-.93,.99),(6.98,.72),(6.64,.45),(-5.3,-4.9)],
 "Lung":[(-.7,1.56),(-.7,1.48),(-.12,1.55),(1.64,1.17),(6.16,.94)],
 "Pancreas":[(-.18,1.75),(.04,1.6),(-.17,1.39)],
 "Vasculature":[(.95,2.62),(.47,1.41),(-1.36,.78),(-1.06,.8),(-.73,.87),(-2.01,.55),(-1.91,.57),(-1.55,.59),(-2.36,.33),(-1.49,.42),(-1.91,.19),(-2.52,.11),(-2.32,.02),(-1.97,.02),(-1.71,.02),(-1.38,.02),(-1.12,.02),(-2.22,-.21),(-1.89,-.18),(-1.71,-.29),(-1.44,-.38),(.2,-.85),(-5.33,-3.49),(-3.63,-3.72)],
 "Small_Intestine":[(.62,.7)],
 "Uterus":[(.0,-.16),(.1,-.2)],
 "Bladder":[(-.52,1.21),(.13,.78),(-.6,.46),(.23,.5),(1.45,.53),(.47,.34),(.67,.27),(.81,.15),(.22,.15),(.84,.04),(1.12,.08),(1.03,.02),(-.38,-.13),(.38,-.16),(.51,-.11),(.81,-.08),(1.27,-.17),(1.03,-.19),(1.03,-.34),(.93,-.32),(1.59,-.27),(.86,-.39),(.04,-.46),(.47,-.51),(.6,-.76),(.78,-.85),(.55,-.96),(1.96,-.76),(-1.44,-1.25),(-1.91,-1.54),(-2.99,-2.32),(-3.21,-2.68)],
 "Tongue":[(0,-.6),(-2.82,-3.16)],
 "Liver":[(2.44,.1),(2.56,-.43),(2.34,-.56),(2.82,-.91),(2.57,-.95),(1.45,-.98),(1.32,-1.07),(1.64,-1.09),(2.42,-1.1),(2.15,-1.2),(2.3,-1.22),(2.43,-1.25),(1.81,-1.4),(1.75,-1.51),(1.88,-1.48),(2.05,-1.48),(1.84,-1.66),(2.92,-1.51),(3.05,-1.48),(3.16,-1.6),(2.73,-1.57),(2.4,-1.72),(2.4,-1.78),(1.98,-1.9),(2.3,-1.94),(2.53,-1.94),(2.62,-2),(2.86,-1.97),(2.73,-2.04),(2.87,-2.08),(2.36,-2.11),(2.81,-2.31)],
 "Eye":[(-3.99,-3.34),(-4.06,-3.53)],
 "Muscle":[(-4.9,-3.86)],
 "Fat":[(1.58,4.06),(1.02,3.76),(-.74,2.69),(1.5,3.03),(.44,2.78),(-2.06,.87),(-2.21,.35),(-.93,.18),(-2.55,-.03),(-2.43,-.2),(-.21,-.6),(.35,-.98),(.31,-1.09),(.01,-1.28),
  (-3.52,-3.36),(-3.69,-3.41),(-3.88,-3.47),(-4.58,-3.56),(-4.65,-3.58),(-4.23,-3.6),(-4.87,-3.65),(-5.64,-3.69),(-4.78,-3.69),(-4.46,-3.71),(-5.12,-3.8),(-5.74,-3.84),(-6.04,-3.9),(-5.43,-3.93),(-4.1,-3.96),(-6.28,-3.97),(-4.28,-3.96),(-4.91,-3.93),(-6.25,-4.05),(-5.9,-4.09),(-4.3,-4.06),(-3.34,-4.07),(-5.08,-4.13),(-4.93,-4.2),(-4.19,-4.18),(-6.45,-4.22),(-6.38,-4.26),(-3.37,-4.24),(-3.2,-4.26),(-5.6,-4.23),(-6.1,-4.36),(-6.15,-4.4),(-4.58,-4.33),(-4.65,-4.37),(-3.97,-4.36),(-3.79,-4.36),(-3.58,-4.37),(-5.65,-4.4),(-3.56,-4.46),(-6.17,-4.51),(-5.3,-4.45),(-5.17,-4.47),(-5,-4.47),(-4.99,-4.51),(-5.46,-4.55),(-6.32,-4.59),(-4.63,-4.58),(-4.63,-4.62),(-4.15,-4.55),(-3.99,-4.55),(-4.3,-4.55),(-3.83,-4.6),(-3.34,-4.55),(-3.69,-4.7),(-6.04,-4.7),(-4.56,-4.7),(-5.64,-4.72),(-5.7,-4.76),(-4.77,-4.81),(-4.58,-4.82),(-4.36,-4.85),(-3.96,-4.88),(-4.3,-4.92),(-4.16,-4.96),(-4.22,-5.11)],
}
F_LABELS = ["Spleen","Lymph_Node","Bone_Marrow","Lung","Thymus","Kidney","Pancreas","Small_Intestine","Vasculature","Uterus","Bladder","Tongue","Liver","Blood","Trachea","Eye","Muscle","Fat"]
F_LABEL_X = [-.18,.86,2.34,-.9,.63,1.97,.63,.61,-1.72,.03,1.48,-1.41,2.4,6.78,5.65,-4.03,-4.88,-4.31]
F_LABEL_Y = [3.94,2.86,2.38,1.87,1.86,1.92,1.35,.69,.06,-.18,-.06,-1.88,-1.52,1.15,.64,-3.45,-3.84,-4.18]

# Sankey
SK_NODES = ["immune","epithelial","endothelial","stromal","ffar2","ffar3","Blood","Bone_Marrow","Eye","Spleen","Mammary","Lung","Fat","Pancreas","Tongue","Trachea","Large_Intestine","Liver","Prostate","Bladder","Salivary_Gland","Muscle","Heart","Kidney","Lymph_Node","Vasculature","Small_Intestine","Thymus","Uterus","Skin"]
SK_COLORS = ["#53A548","#F6C28B","#F28E3B","#A5D690","#CB4335","#F2A09F","#C5B5D5","#945F54","#8C6D63","#CB4335","#5B8A96","#DAD98F","#D67FB8","#A5BED9","#9569B5","#C8B5D8","#7F7F7F","#BFBF3F","#C87A32","#9467BD","#E8A96A","#3A6299","#B76FB7","#6E6E5E","#3FB3C4","#C9A095","#6B8E4E","#F39A9A","#5A3232","#2E6E3E"]
SK_FROM_LEFT = {"immune":(503,61),"epithelial":(32,4),"endothelial":(13,7),"stromal":(12,9)}
SK_FFAR2 = [175,29,5,145,3,16,34,8,22,22,2,14,6,16,7,7,1,3,12,13,5,8,4,3]
SK_FFAR3 = [3,1,.5,19,.5,1,12,1,2,1,.5,4,.5,14,1,1,.5,.5,3,8,.5,5,.5,.5]

# ---------- helpers ----------
fig = go.Figure()
layout = {}
notes = []
n_ax = [0]
NB = "\u00a0"

def axes(l, t, r, b, xr, yr, xo=None, yo=None, visible=True):
    n_ax[0] += 1
    k = n_ax[0]
    sfx = "" if k == 1 else str(k)
    base = dict(showgrid=False, zeroline=False, showline=visible, linecolor="black", linewidth=3.5, ticks="outside" if visible else "",
                ticklen=9, tickwidth=2.5, tickcolor="black", visible=visible, tickfont=dict(family=FONT, size=32, color="black"), fixedrange=True, automargin=False)
    xa = dict(base); ya = dict(base)
    xa.update(domain=[l/W, r/W], range=xr, anchor="y"+sfx)
    ya.update(domain=[1-b/H, 1-t/H], range=yr, anchor="x"+sfx)
    if xo: xa.update(xo)
    if yo: ya.update(yo)
    layout["xaxis"+sfx] = xa
    layout["yaxis"+sfx] = ya
    return "x"+sfx, "y"+sfx

def note(x, y, text, size, bold=False, anchor="left", angle=0):
    t = "<b>%s</b>" % text if bold else text
    notes.append(dict(xref="paper", yref="paper", x=x/W, y=1-y/H, text=t, showarrow=False, xanchor=anchor, yanchor="middle",
                      textangle=angle, font=dict(family=FONT, size=size, color="black"), borderpad=0))

def keys(x0, y0, row_gap, col_gap, text_off, rows, labels, colors, msize, symbol="circle", font=33):
    y0 += 2.5
    ncol = (len(labels) + rows - 1)//rows
    l, r = x0-40, x0+col_gap*ncol
    xa, ya = axes(l, y0-row_gap/2, r, y0+(rows-.5)*row_gap, [(l-x0)/col_gap, (r-x0)/col_gap], [rows-.5, -.5], visible=False)
    cols = [i//rows for i in range(len(labels))]
    rws = [i % rows for i in range(len(labels))]
    fig.add_trace(go.Scatter(x=cols, y=rws, mode="markers", xaxis=xa, yaxis=ya, cliponaxis=False, hoverinfo="skip", showlegend=False,
                             marker=dict(color=colors, size=msize, opacity=1, symbol=symbol, line=dict(width=0))))
    fig.add_trace(go.Scatter(x=[c+text_off/col_gap for c in cols], y=rws, mode="text", text=labels, textposition="middle right", xaxis=xa, yaxis=ya,
                             cliponaxis=False, hoverinfo="skip", showlegend=False, textfont=dict(family=FONT, size=font, color="black")))

EDGE = dict(shape="spline", smoothing=.8, dash="3px,5px")
def poly(xs, ys, color, xa, ya, lw=8):
    fig.add_trace(go.Scatter(x=list(xs)+[xs[0]], y=list(ys)+[ys[0]], mode="lines", fill="toself", fillcolor=color, hoverinfo="skip", showlegend=False,
                             line=dict(color=color, width=lw, **EDGE), xaxis=xa, yaxis=ya))

UMAP_CS = [[0,"#D3D3D3"],[.25,"#BDB0D6"],[.5,"#8E79B8"],[.75,"#5548A0"],[1,"#244AA0"]]
RDYLBU = [[i/10, c] for i, c in enumerate(["#313695","#4575B4","#74ADD1","#ABD9E9","#E0F3F8","#FFFFBF","#FEE090","#FDAE61","#F46D43","#D73027","#A50026"])]
def umap_col(v):
    return sample_colorscale(UMAP_CS, [v/10])[0]

# ---------- a ----------
xa, ya = axes(150, 170, 1333, 1152, [-6.74, 23.7], [-13.2, 23.2],
              dict(tickvals=[0,10,20], ticktext=["0","10","20"]),
              dict(tickvals=[-10,0,10,20], ticktext=["-10","0","10","20"]))
for t, xs, ys in BLOBS:
    poly(xs, ys, PAL[t], xa, ya)
for t, pts in SPECKLE_A.items():
    fig.add_trace(go.Scatter(x=[p[0] for p in pts], y=[p[1] for p in pts], mode="markers", xaxis=xa, yaxis=ya, hoverinfo="skip", showlegend=False,
                             marker=dict(size=5, color=PAL[t], line=dict(width=0))))
note(5, 51, "a", 90, True)
note(513, 128, "tissue_in_publication", 44.3, True)
note(988, 130, "(n = 483,152)", 50)
note(740, 1226, "SCVIumap_1", 38.5, anchor="center")
note(54, 659, "SCVIumap_2", 38, anchor="center", angle=-90)
keys(1392, 428, 42.6, 311, 40, 12, TISSUES, TISSUE_COLORS, 21)

# ---------- b ----------
src, tgt, val, lcol = [], [], [], []
for i, nm in enumerate(SK_NODES[:4]):
    a2, a3 = SK_FROM_LEFT[nm]
    src += [i, i]; tgt += [4, 5]; val += [a2, a3]; lcol += ["#7597C3", "#C6D4E9"]
for j, (v2, v3) in enumerate(zip(SK_FFAR2, SK_FFAR3)):
    src += [4, 5]; tgt += [6+j, 6+j]; val += [v2, v3]; lcol += ["#7597C3", "#C6D4E9"]
tot = [0.0]*len(SK_NODES)
for s, t, v in zip(src, tgt, val):
    tot[t] += v
for i, nm in enumerate(SK_NODES[:4]):
    tot[i] = sum(SK_FROM_LEFT[nm])
sk_l, sk_r, sk_t, sk_b = 2271, 3829, 157, 1425
SK_H = sk_b - sk_t
PAD = 28.8
ky = (SK_H - 23*PAD)/sum(tot[6:])
tops = [321,882,946,994,326,885,157,360,417,451,637,668,713,785,823,874,925,955,1003,1036,1096,1131,1166,1194,1225,1267,1317,1350,1390,1421]
ny = [max(.0005, min(.9995, (tp + tot[i]*ky/2 - sk_t)/SK_H)) for i, tp in enumerate(tops)]
nx = [.0279]*4 + [.5]*2 + [.9717]*24
sk_text = [NB*2+s for s in SK_NODES[:6]] + [s+NB for s in SK_NODES[6:]]
fig.add_trace(go.Sankey(arrangement="fixed", domain=dict(x=[sk_l/W, sk_r/W], y=[1-sk_b/H, 1-sk_t/H]), hoverinfo="skip",
    textfont=dict(family=FONT, size=33, color="black", shadow="none"),
    node=dict(label=sk_text, color=SK_COLORS, x=nx, y=ny, pad=PAD, thickness=86, line=dict(color="rgba(60,60,60,0.6)", width=2), hoverinfo="skip"),
    link=dict(source=src, target=tgt, value=val, color=lcol, hoverinfo="skip")))
note(2192, 51, "b", 90, True)

# ---------- c ----------
CB_TICKS = [NB*2+s for s in ["0.0","2.5","5.0","7.5","10.0"]]
def umap_panel(l, r, xr):
    return axes(l, 1425, r, 2406, xr, [-13.7, 23.74], dict(tickvals=[0,10,20], ticktext=["0","10","20"]),
                dict(tickvals=[-10,0,10,20], ticktext=["-10","0","10","20"]))
def gray(xa, ya):
    gx, gy = [], []
    for t, xs, ys in BLOBS:
        gx += list(xs)+[xs[0], None]; gy += list(ys)+[ys[0], None]
    fig.add_trace(go.Scatter(x=gx, y=gy, mode="lines", fill="toself", fillcolor="#D3D3D3", hoverinfo="skip", showlegend=False,
                             line=dict(color="#D3D3D3", width=8, **EDGE), xaxis=xa, yaxis=ya))
    sx = [p[0] for pts in SPECKLE_A.values() for p in pts]
    sy = [p[1] for pts in SPECKLE_A.values() for p in pts]
    fig.add_trace(go.Scatter(x=sx, y=sy, mode="markers", xaxis=xa, yaxis=ya, hoverinfo="skip", showlegend=False, marker=dict(size=6, color="#D3D3D3")))
def cbar(x, top, cmin, cmax, tickvals, ticktext, length, thick=43, font=32, scale=UMAP_CS, xa=None, ya=None):
    fig.add_trace(go.Scatter(x=[None, None], y=[None, None], mode="markers", xaxis=xa, yaxis=ya, hoverinfo="skip", showlegend=False,
        marker=dict(color=[cmin, cmax], cmin=cmin, cmax=cmax, colorscale=scale, size=1, showscale=True,
        colorbar=dict(x=x/W, xanchor="left", y=1-top/H, yanchor="top", lenmode="pixels", len=length, thicknessmode="pixels", thickness=thick,
                      outlinewidth=0, tickvals=tickvals, ticktext=ticktext, ticks="inside", tickcolor="white", ticklen=8, tickwidth=2,
                      tickfont=dict(family=FONT, size=font, color="black"), xpad=0, ypad=0))))
def dots(xs, ys, v, xa, ya):
    fig.add_trace(go.Scatter(x=xs, y=ys, mode="markers", xaxis=xa, yaxis=ya, hoverinfo="skip", showlegend=False,
                             marker=dict(size=7, color=[v]*len(xs), cmin=0, cmax=10, colorscale=UMAP_CS)))

xa, ya = umap_panel(153, 1325, [-7.48, 24.5])
gray(xa, ya)
for v, xs, ys in FFAR2_PATCHES:
    poly(xs, ys, umap_col(v), xa, ya, 7)
dots(FFAR2_LIGHT_X, FFAR2_LIGHT_Y, 2.5, xa, ya)
dots(FFAR2_X, FFAR2_Y, 6.0, xa, ya)
dots(FFAR2_DARK_X, FFAR2_DARK_Y, 8.5, xa, ya)
cbar(1363, 1821, 0, 10, [0,2.5,5,7.5,10], CB_TICKS, 210, xa=xa, ya=ya)
note(10, 1301, "c", 90, True)
note(738, 1383, "FFAR2", 45, True, "center")
note(784, 1430, "n = 12,346 (2.56%)", 50, anchor="center")
note(738, 2478, "UMAP_1", 38, anchor="center")
note(55, 1915, "UMAP_2", 38, anchor="center", angle=-90)

xa, ya = umap_panel(1640, 2812, [-7.43, 24.47])
gray(xa, ya)
for xs, ys in zip(FFAR3_CORE_X, FFAR3_CORE_Y):
    poly(xs, ys, "#244AA0", xa, ya, 7)
dots(FFAR3_LIGHT_X, FFAR3_LIGHT_Y, 3.0, xa, ya)
dots(FFAR3_X, FFAR3_Y, 10.0, xa, ya)
cbar(2847, 1821, 0, 10, [0,2.5,5,7.5,10], CB_TICKS, 210, xa=xa, ya=ya)
note(2220, 1383, "FFAR3", 45, True, "center")
note(2262, 1430, "n = 1,799 (0.37%)", 50, anchor="center")
note(2220, 2478, "UMAP_1", 38, anchor="center")
note(1542, 1915, "UMAP_2", 38, anchor="center", angle=-90)

# ---------- d ----------
grid = dict(showgrid=True, gridcolor="#EDEDED", gridwidth=2)
def dot(l, t, r, b, xr, yr, ids, p2, a2, p3, a3, k, cmin, cmax, tfs=33):
    xa, ya = axes(l, t, r, b, xr, yr,
                  dict(type="category", categoryorder="array", categoryarray=DOT_FEATURES, tickmode="array", tickvals=DOT_FEATURES, ticktext=DOT_FEATURES, tickangle=-45, tickfont=dict(family=FONT, size=tfs), **grid),
                  dict(type="category", categoryorder="array", categoryarray=ids, tickmode="array", tickvals=ids, ticktext=ids, tickfont=dict(family=FONT, size=tfs), **grid))
    for f, p, a in zip(DOT_FEATURES, (p2, p3), (a2, a3)):
        fig.add_trace(go.Scatter(x=[f]*len(ids), y=ids, mode="markers", xaxis=xa, yaxis=ya, hoverinfo="skip", showlegend=False,
                                 marker=dict(size=[max(2, v*k) for v in p], opacity=1, color=a, cmin=cmin, cmax=cmax, colorscale=RDYLBU, line=dict(width=0))))
    return xa, ya
xa, ya = dot(3324, 1611, 3506, 2555, [-.59, 1.6], [-.59, 23.55], DOT_TISSUES, FFAR2_PCT, FFAR2_AVG, FFAR3_PCT, FFAR3_AVG, 4.2, -.66, 2.5)
cbar(3545, 1895, -.66, 2.5, [-.5,0,.5,1,1.5,2,2.5], ["-0.5","0.0","0.5","1.0","1.5","2.0","2.5"], 211, scale=RDYLBU, font=33, xa=xa, ya=ya)
note(3015, 1499, "d", 90, True)
note(3520, 1566, "FFAR2/3 in tissues", 44.6, True, "center")
note(3047, 2079, "Identity", 38, anchor="center", angle=-90)
note(3415, 2693, "Features", 38, anchor="center")
note(3544, 1856, "Average Expression", 39)
note(3545, 2162, "Percent Expressed", 38.8)
LEG_PCT_TOP = ["2.5","5.0","7.5"]
keys(3567, 2221, 43, 300, 40, 3, LEG_PCT_TOP, ["black"]*3, [2.5*4.2, 5*4.2, 7.5*4.2])

xa, ya = dot(3319, 2752, 3470, 3355, [-.594, 1.594], [-.585, 4.6], COMP_ID, COMP_FFAR2_PCT, COMP_FFAR2_AVG, COMP_FFAR3_PCT, COMP_FFAR3_AVG, 9.3, -.96, 1.76)
cbar(3509, 2821, -.96, 1.76, [0,1], ["0","1"], 212, scale=RDYLBU, font=33, xa=xa, ya=ya)
note(3107, 3053, "Identity", 38, anchor="center", angle=-90)
note(3395, 3495, "Features", 38, anchor="center")
note(3509, 2784, "Average Expression", 39)
note(3510, 3090, "Percent Expressed", 38.8)
LEG_PCT_BOT = ["0","1","2","3","4"]
keys(3532, 3148, 42.7, 300, 43, 5, LEG_PCT_BOT, ["black"]*5, [3, 12, 21, 29, 37])

# ---------- e ----------
box = dict(showline=True, mirror=True, linewidth=4)
xa, ya = axes(186, 2679, 451, 3267, [-.58, 3.6], [-4.65, 104.8],
              dict(type="category", categoryorder="array", categoryarray=BAR_GROUPS, tickangle=-90, tickfont=dict(family=FONT, size=41), **box),
              dict(tickvals=[0,25,50,75,100], ticktext=["0%","25%","50%","75%","100%"], tickfont=dict(family=FONT, size=41), **box))
rows = list(zip(TISSUES, TISSUE_COLORS, BAR_CTRL, BAR_FFAR2, BAR_FFAR3, BAR_FFAR))
for nm, c, *vals in reversed(rows):
    fig.add_trace(go.Bar(x=BAR_GROUPS, y=vals, name=nm, width=.8, marker=dict(color=c, line=dict(width=0)), xaxis=xa, yaxis=ya, hoverinfo="skip", showlegend=False))
note(6, 2582, "e", 90, True)
note(186, 2643, "Tissues", 36)
note(35, 2973, "Cell proportion", 41, anchor="center", angle=-90)
note(498, 2678, "Tissue", 29)
keys(521, 2731, 48, 247, 40, 12, TISSUES, TISSUE_COLORS, 46, "square", 24.5)

xa, ya = axes(163, 3481, 746, 3745, [-4.7, 104.7], [-.565, 3.58],
              dict(tickvals=[0,25,50,75,100], ticktext=["0%","25%","50%","75%","100%"], tickangle=-90, tickfont=dict(family=FONT, size=41), **box),
              dict(type="category", categoryorder="array", categoryarray=COMP_GROUPS, tickfont=dict(family=FONT, size=41), **box))
for nm, c, vals in zip(COMP_TYPES, COMP_COLORS, COMP_VALUES):
    fig.add_trace(go.Bar(y=COMP_GROUPS, x=vals, orientation="h", name=nm, width=.8, marker=dict(color=c, line=dict(width=0)), xaxis=xa, yaxis=ya, hoverinfo="skip", showlegend=False))
note(163, 3444, "Compartment", 36.5)
note(454, 3884, "Cell proportion", 30, anchor="center")
note(794, 3484, "CellType", 32)
LEG_CT = COMP_TYPES[::-1]
keys(818, 3538, 48, 300, 39, 5, LEG_CT, COMP_COLORS[::-1], 46, "square", 24.5)

# ---------- f ----------
xa, ya = axes(1133, 2708, 2645, 3828, [-7.13, 8.34], [-5.63, 5.63],
              dict(tickvals=[-4,0,4,8], ticktext=["-4","0","4","8"]),
              dict(tickvals=[-3,0,3], ticktext=["-3","0","3"]))
FC = dict(zip(F_NAMES, F_COLORS))
for nm in F_NAMES:
    pts = F_POINTS[nm]
    fig.add_trace(go.Scatter(x=[p[0] for p in pts], y=[p[1] for p in pts], mode="markers", xaxis=xa, yaxis=ya, hoverinfo="skip", showlegend=False,
                             marker=dict(size=16, color=FC[nm], line=dict(width=0))))
fig.add_trace(go.Scatter(x=F_LABEL_X, y=F_LABEL_Y, text=F_LABELS, mode="text", textposition="middle center", xaxis=xa, yaxis=ya, hoverinfo="skip", showlegend=False,
                         textfont=dict(family=FONT, size=31.5, color="black")))
note(1010, 2585, "f", 90, True)
note(1133, 2664, "FFAR2/FFAR3 double-positive cells", 44.6, True)
note(1182, 2726, "n = 340 (0.07%)", 56)
note(1889, 3901, "UMAP_1", 38, anchor="center")
note(1053, 3268, "UMAP_2", 38, anchor="center", angle=-90)
keys(2705, 2906, 42.7, 300, 40, 18, F_NAMES, F_COLORS, 21)

fig.update_layout(width=W, height=H, margin=dict(l=0, r=0, t=0, b=0), autosize=False, paper_bgcolor="white", plot_bgcolor="white",
                  barmode="stack", barnorm="percent", bargap=.2, hovermode=False, showlegend=False, font=dict(family=FONT, color="black"), annotations=notes, **layout)
fig.write_html("out.html", config=dict(displayModeBar=False), post_script="document.body.style.margin='0';")
